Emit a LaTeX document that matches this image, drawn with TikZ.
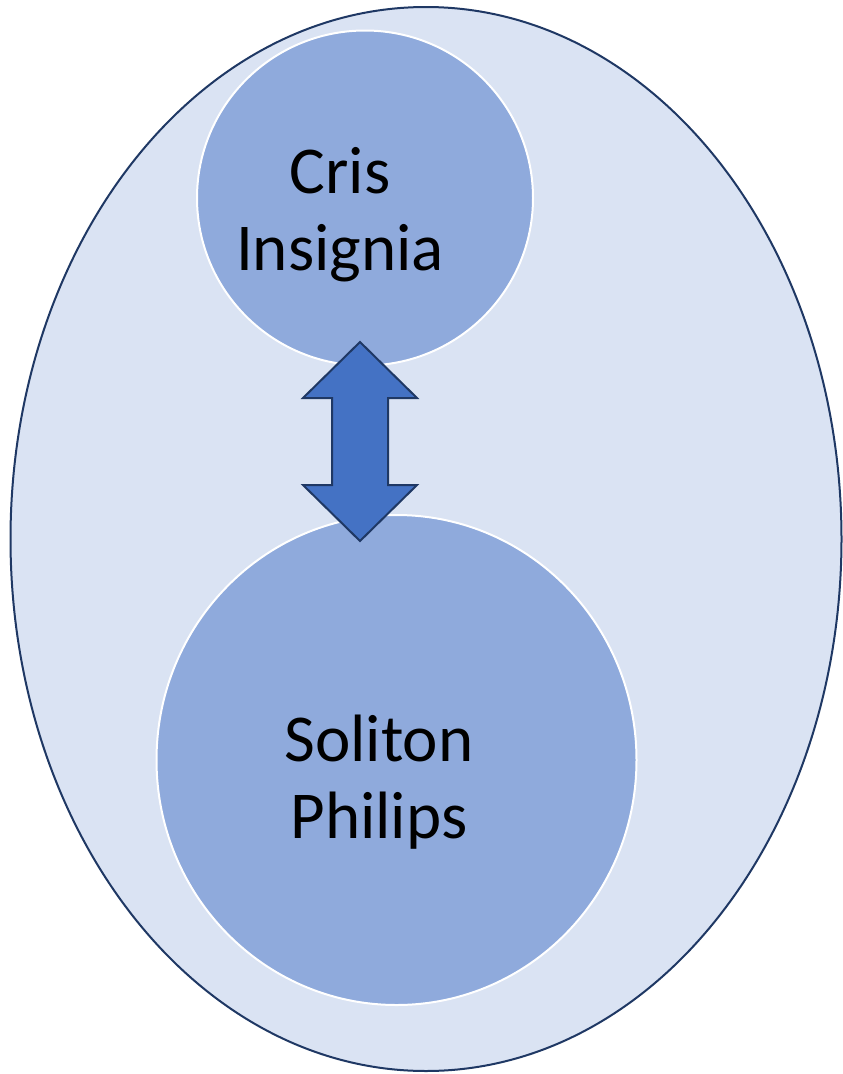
\documentclass[tikz,border=0pt]{standalone}
\usepackage{fontspec}
\setmainfont{Carlito}
\usepackage{xcolor}
\usetikzlibrary{shapes.geometric}

\definecolor{groupfill}{HTML}{DAE3F3}
\definecolor{groupline}{HTML}{1F3864}
\definecolor{memberfill}{HTML}{8FAADC}
\definecolor{linkfill}{HTML}{4472C4}

\tikzset{
  groupring/.style={ellipse, draw=groupline, fill=groupfill, line width=2pt, inner sep=0pt},
  member/.style={ellipse, draw=white, fill=memberfill, line width=2pt, inner sep=0pt},
  nametext/.style={align=center, inner sep=0pt, font=\fontsize{67}{77}\selectfont},
  linkarrow/.style={draw=groupline, fill=linkfill, line width=2pt, line join=miter}
}

\begin{document}
\begin{tikzpicture}[x=1pt,y=-1pt]
  \useasboundingbox (0,0) rectangle (843,1074);
  % outer group
  \node[groupring, minimum width=831pt, minimum height=1064pt] (team) at (426,539) {};
  % the two members
  \node[member, minimum width=336pt, minimum height=335pt] (cris) at (365,198) {};
  \node[member, minimum width=480pt, minimum height=490pt] (soliton) at (396.5,760) {};
  \node[nametext, anchor=base] (crisname) at (340,270) {Cris\\Insignia};
  \node[nametext, anchor=base] (solitonname) at (379,838) {Soliton\\Philips};
  % two-way link
  \draw[linkarrow] (360,342) -- (417,398) -- (388,398) -- (388,485) -- (417,485)
    -- (360,541) -- (303,485) -- (332,485) -- (332,398) -- (303,398) -- cycle;
\end{tikzpicture}
\end{document}
